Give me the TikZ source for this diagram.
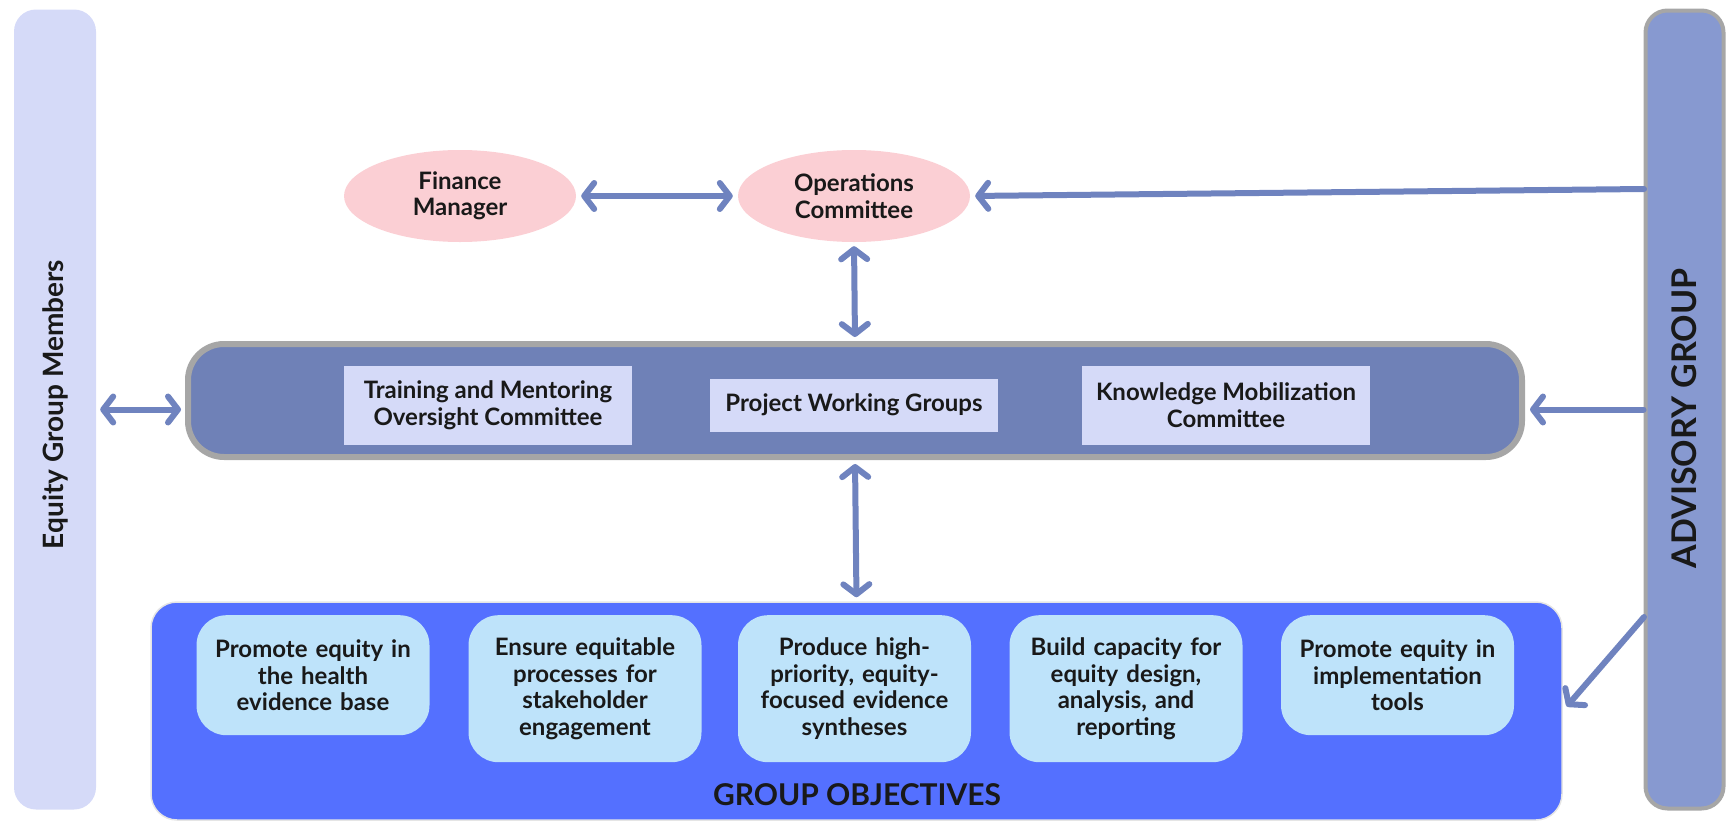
\documentclass[tikz,border=0pt]{standalone}
\usepackage{fontspec}
\setmainfont{Lato}
\usepackage{tikz}
\usetikzlibrary{arrows.meta, shapes.geometric}
\definecolor{linkBlue}{HTML}{6F83BF}
\definecolor{bandBlue}{HTML}{6F81B7}
\definecolor{paleLilac}{HTML}{D5DAF8}
\definecolor{rosePink}{HTML}{FBCFD4}
\definecolor{goalBlue}{HTML}{5470FF}
\definecolor{skyBlue}{HTML}{BEE3FA}
\definecolor{advBlue}{HTML}{8799D0}
\definecolor{rimGray}{HTML}{A6A6A6}
\tikzset{%
  >={Straight Barb[length=10pt,width=26pt,round]},
  % Specifications for style of nodes:
         txt/.style = {font=\fontsize{24}{26.5}\selectfont\bfseries, align=center,
                       text=black!90},
     sidebar/.style = {rectangle, rounded corners=22pt, minimum width=82pt,
                       minimum height=800pt},
     officer/.style = {ellipse, fill=rosePink, minimum width=232pt,
                       minimum height=92pt, inner sep=0pt, txt},
   committee/.style = {rectangle, fill=paleLilac, minimum width=288pt,
                       minimum height=79pt, inner sep=0pt, txt},
   objective/.style = {rectangle, rounded corners=30pt, fill=skyBlue,
                       minimum width=233pt, text width=225pt, inner sep=0pt, txt},
        link/.style = {draw=linkBlue, line width=6pt, line cap=round},
}

\begin{document}
\begin{tikzpicture}[x=1pt, y=-1pt]
  \useasboundingbox (0,0) rectangle (1727,822);
  % Side bars
  \node (members)  [sidebar, fill=paleLilac] at (55,409.5)
        [label={[rotate=90, txt, xshift=5pt, font=\fontsize{28}{30}\selectfont\bfseries]center:Equity Group Members}] {};
  \node (advisory) [sidebar, fill=advBlue, draw=rimGray, line width=4pt,
                    minimum width=78pt, minimum height=798pt] at (1684.5,409.5)
        [label={[rotate=90, txt, xshift=-9pt, font=\fontsize{34}{36}\selectfont\bfseries]center:ADVISORY GROUP}] {};
  % Top ellipses
  \node (finance)    [officer] at (460,196) {Finance\\Manager};
  \node (operations) [officer] at (854,196) {Operations\\Committee};
  % Middle band with committees
  \node (band) [rectangle, rounded corners=36pt, fill=bandBlue, draw=rimGray,
                line width=6pt, minimum width=1334pt, minimum height=113pt]
        at (855,400.5) {};
  \node (training)  [committee] at (488,405)  {Training and Mentoring\\Oversight Committee};
  \node (projects)  [committee, minimum height=53pt] at (854,405) {Project Working Groups};
  \node (knowledge) [committee] at (1226,405) {Knowledge Mobilization\\Committee};
  % Objectives block
  \node (objectives) [rectangle, rounded corners=26pt, fill=goalBlue,
                      draw=black!10, line width=1.5pt, minimum width=1411pt,
                      minimum height=218pt] at (856.5,711) {};
  \node (goalA) [objective, minimum height=120pt, anchor=north] at (313,615)
        {Promote equity in\\the health\\evidence base};
  \node (goalB) [objective, minimum height=147pt, anchor=north] at (585,615)
        {Ensure equitable\\processes for\\stakeholder\\engagement};
  \node (goalC) [objective, minimum height=147pt, anchor=north] at (854.5,615)
        {Produce high-\\priority, equity-\\focused evidence\\syntheses};
  \node (goalD) [objective, minimum height=147pt, anchor=north] at (1126,615)
        {Build capacity for\\equity design,\\analysis, and\\reporting};
  \node (goalE) [objective, minimum height=120pt, anchor=north] at (1397.5,615)
        {Promote equity in\\implementation\\tools};
  \node (goalTitle) [txt, font=\fontsize{30}{32}\selectfont\bfseries] at (857,795) {GROUP OBJECTIVES};
  % Free ends on the advisory bar
  \coordinate (advTop) at (1644,189);
  \coordinate (advLow) at (1644,617);
  % Connectors
  \draw[link, <->, shorten <=5pt, shorten >=5pt] (finance) -- (operations);
  \draw[link, ->, shorten >=5pt] (advTop) -- (operations.east);
  \draw[link, <->, shorten <=4pt, shorten >=4pt] (operations.south) -- (band.north);
  \draw[link, <->, shorten <=4pt, shorten >=4pt] (band.south) -- (objectives.north);
  \draw[link, <->, shorten <=4pt, shorten >=4pt] (members.east) -- (members.east -| band.west);
  \draw[link, ->, shorten >=5pt] (advisory.west) -- (advisory.west -| band.east);
  \draw[link, ->, shorten >=6pt] (advLow) -- (objectives.east);
\end{tikzpicture}
\end{document}
